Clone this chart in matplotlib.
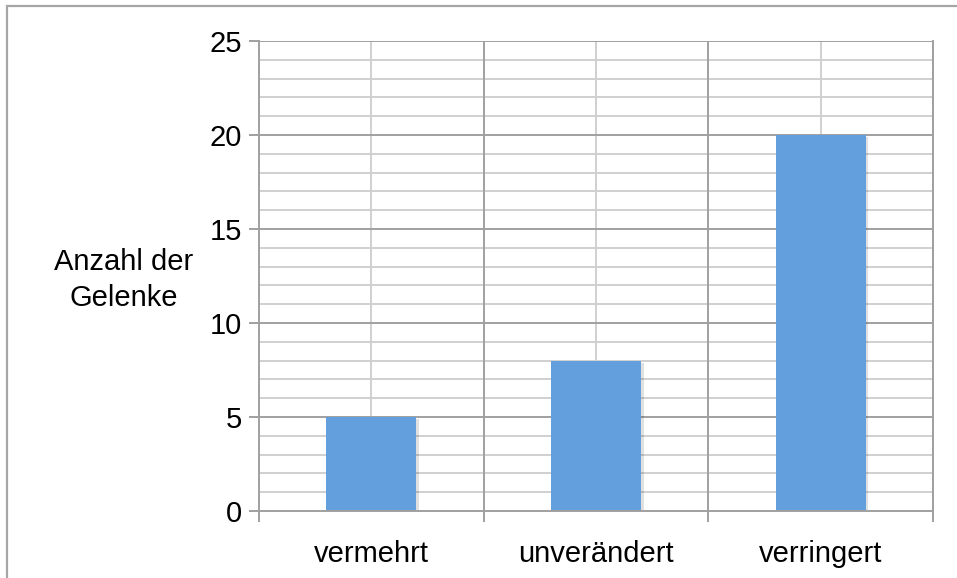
import matplotlib
matplotlib.use("Agg")
import matplotlib.pyplot as plt
from matplotlib.patches import Rectangle
import matplotlib.patheffects as pe

categories = ["vermehrt", "unverändert", "verringert"]
values = [5, 8, 20]
y_ticks = [0, 5, 10, 15, 20, 25]
y_label = "Anzahl der\nGelenke"

W, H = 957, 578
plt.rcParams["font.family"] = ["Liberation Sans", "DejaVu Sans"]

fig = plt.figure(figsize=(W / 100, H / 100), dpi=100)
fig.patch.set_facecolor("white")

# chart frame
fig.patches.append(Rectangle((7 / W, -0.1), 1.2, 1.1 - 6 / H, transform=fig.transFigure,
                             fill=False, edgecolor="#a6a6a6", linewidth=1.6, zorder=0))

ax = fig.add_axes([259 / W, 1 - 511 / H, (933 - 259) / W, (511 - 41) / H])
x = list(range(len(categories)))
ax.set_xlim(-0.5, len(categories) - 0.5)
ax.set_ylim(0, 25)

major_c = "#a0a0a0"
minor_c = "#d0d0d0"
# minor horizontal grid
for v in range(0, 26):
    if v % 5:
        ax.axhline(v, color=minor_c, lw=1.4, zorder=0)
for v in y_ticks[1:]:
    ax.axhline(v, color=major_c, lw=1.4, zorder=0.5)
# vertical grid: light at category centres, dark at category boundaries
for xi in x:
    ax.axvline(xi, color=minor_c, lw=1.4, zorder=0)
for b in [0.5, 1.5, 2.5]:
    ax.axvline(b, color=major_c, lw=1.4, zorder=0.5)

bars = ax.bar(x, values, width=0.4, color="#629fdc", zorder=2)
for b in bars:
    b.set_path_effects([pe.SimplePatchShadow(offset=(2, -1.5), shadow_rgbFace="#000000", alpha=0.12),
                        pe.Normal()])

for s in ["top"]:
    ax.spines[s].set_visible(False)
for s in ["left", "bottom", "right"]:
    ax.spines[s].set_color(major_c)
    ax.spines[s].set_linewidth(1.4)
ax.spines["bottom"].set_zorder(3)

fs = 21
ax.set_yticks(y_ticks)
ax.set_yticklabels([str(t) for t in y_ticks], fontsize=fs)
ax.tick_params(axis="y", length=7, width=1.4, color=major_c, pad=5)

ax.set_xticks([-0.5, 0.5, 1.5, 2.5])
ax.set_xticklabels([])
ax.tick_params(axis="x", length=8, width=1.4, color=major_c)
ax.set_xticks(x, minor=True)
ax.set_xticklabels(categories, minor=True, fontsize=fs)
ax.tick_params(axis="x", which="minor", length=0, pad=21)

fig.text(124 / W, 1 - 280 / H, y_label, ha="center", va="center", fontsize=fs,
         linespacing=1.35)

fig.savefig("out.png", dpi=100)
